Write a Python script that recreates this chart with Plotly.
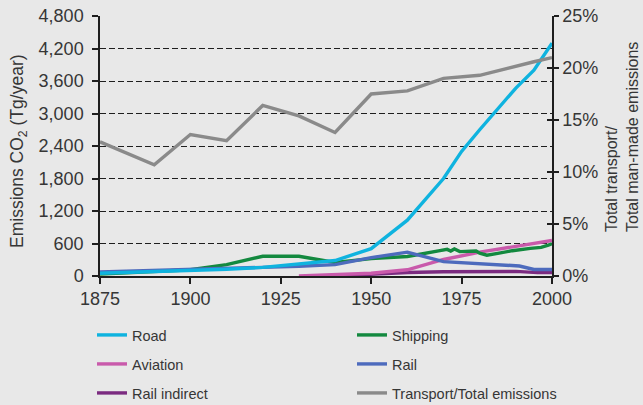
import plotly.graph_objects as go

# ---------------- data ----------------
road_years = [1875, 1900, 1910, 1920, 1930, 1940, 1950, 1960, 1970, 1975, 1980, 1990, 1995, 2000]
road_vals = [50, 100, 125, 160, 220, 285, 505, 1030, 1800, 2300, 2700, 3470, 3800, 4300]

ship_years = [1875, 1900, 1910, 1920, 1930, 1940, 1950, 1960, 1969, 1971, 1972, 1973, 1974.5,
              1979, 1980, 1982, 1985, 1989, 1994, 1997, 1999, 2000]
ship_vals = [35, 115, 210, 365, 365, 250, 320, 360, 467, 492, 460, 498, 450,
             460, 420, 385, 418, 467, 511, 529, 572, 595]

avia_years = [1930, 1940, 1950, 1960, 1970, 1980, 1990, 2000]
avia_vals = [0, 20, 50, 115, 305, 440, 555, 655]

rail_years = [1875, 1900, 1920, 1930, 1940, 1950, 1960, 1970, 1980, 1987, 1991, 1995, 2000]
rail_vals = [75, 115, 160, 180, 210, 340, 440, 265, 228, 215, 185, 120, 120]

raili_years = [1940, 1950, 1960, 1970, 1980, 1990, 1996, 2000]
raili_vals = [0, 35, 65, 78, 85, 85, 62, 65]

share_years = [1875, 1890, 1900, 1910, 1920, 1930, 1940, 1950, 1960, 1970, 1980, 1990, 1995, 2000]
share_vals = [12.9, 10.7, 13.6, 13.0, 16.4, 15.4, 13.8, 17.5, 17.8, 19.0, 19.3, 20.2, 20.6, 21.0]

x_ticks = [1875, 1900, 1925, 1950, 1975, 2000]
y_ticks = [0, 600, 1200, 1800, 2400, 3000, 3600, 4200, 4800]
pct_ticks = [0, 5, 10, 15, 20, 25]
pct_labels = ["0%", "5%", "10%", "15%", "20%", "25%"]

# ---------------- styles ----------------
BG = "#E8E8E8"
TXT = "#363636"
FONT = "Liberation Sans, Arial, sans-serif"
W = 3.4

fig = go.Figure()

def add(name, xs, ys, color, legend, rank, yaxis="y"):
    fig.add_trace(go.Scatter(x=xs, y=ys, name=name, mode="lines",
                             line=dict(color=color, width=W),
                             legend=legend, legendrank=rank, yaxis=yaxis))

add("Transport/Total emissions", share_years, share_vals, "#8a8a8a", "legend3", 2, "y2")
add("Rail indirect", raili_years, raili_vals, "#7b2b80", "legend3", 1)
add("Aviation", avia_years, avia_vals, "#c95aab", "legend2", 1)
add("Shipping", ship_years, ship_vals, "#13893f", "legend", 2)
add("Rail", rail_years, rail_vals, "#4d6bbd", "legend2", 2)
add("Road", road_years, road_vals, "#0fb3df", "legend", 1)

L, R, T, B = 100, 91, 16, 129
PH = 405 - T - B
PW = 643 - L - R

def px_y(py):
    return (405 - B - py) / PH

def px_x(px):
    return (px - L) / PW

legend_common = dict(orientation="h", xanchor="left", yanchor="middle",
                     bgcolor="rgba(0,0,0,0)", font=dict(family=FONT, size=14.5, color=TXT),
                     entrywidth=215, entrywidthmode="pixels", itemwidth=30,
                     x=px_x(92))

tickfont = dict(family=FONT, size=18, color=TXT)

fig.update_layout(
    width=643, height=405,
    margin=dict(l=L, r=R, t=T, b=B, autoexpand=False),
    paper_bgcolor=BG, plot_bgcolor=BG,
    font=dict(family=FONT, color=TXT),
    showlegend=True,
    legend=dict(**legend_common, y=px_y(335)),
    legend2=dict(**legend_common, y=px_y(364)),
    legend3=dict(**legend_common, y=px_y(393)),
    xaxis=dict(range=[1875, 2000], tickvals=x_ticks, showgrid=False, zeroline=False,
               showline=True, linecolor="#1e1e1e", linewidth=1.5,
               ticks="outside", ticklen=6, tickcolor="#1e1e1e", tickwidth=1.5,
               tickfont=tickfont),
    yaxis=dict(range=[0, 4800], tickvals=y_ticks, tickformat=",", showgrid=True,
               gridcolor="#1e1e1e", griddash="6px,3px", gridwidth=1.4, zeroline=False,
               showline=True, linecolor="#1e1e1e", linewidth=1.5,
               ticks="outside", ticklen=6, tickcolor="#1e1e1e", tickwidth=1.5,
               ticklabelstandoff=5, tickfont=tickfont),
    yaxis2=dict(range=[0, 25], tickvals=pct_ticks, ticktext=pct_labels,
                overlaying="y", side="right",
                showgrid=False, zeroline=False, showline=True, linecolor="#1e1e1e", linewidth=1.5,
                ticks="outside", ticklen=5, tickcolor="#1e1e1e", tickwidth=1.5,
                tickfont=tickfont),
    yaxis3=dict(range=[0, 25], tickvals=pct_ticks, overlaying="y", side="right",
                showgrid=False, zeroline=False, showline=False, showticklabels=False,
                ticks="inside", ticklen=5, tickcolor="#1e1e1e", tickwidth=1.5),
)

# invisible trace so that the inward tick set of the right axis is drawn
fig.add_trace(go.Scatter(x=share_years, y=share_vals, yaxis="y3", mode="lines",
                         line=dict(width=0), showlegend=False, hoverinfo="skip"))

fig.add_annotation(text="Emissions CO<sub>2</sub> (Tg/year)", textangle=-90,
                   xref="paper", yref="paper", x=px_x(19), y=px_y(151),
                   xanchor="center", yanchor="middle", showarrow=False,
                   font=dict(family=FONT, size=17.5, color=TXT))
fig.add_annotation(text="Total transport/<br>Total man-made emissions", textangle=-90,
                   xref="paper", yref="paper", x=px_x(622), y=px_y(234),
                   xanchor="center", yanchor="bottom", align="left", showarrow=False,
                   font=dict(family=FONT, size=16, color=TXT))

fig.write_html("out.html",
               config={"displayModeBar": False},
               post_script="document.body.style.margin='0';document.body.style.background='%s';" % BG)
